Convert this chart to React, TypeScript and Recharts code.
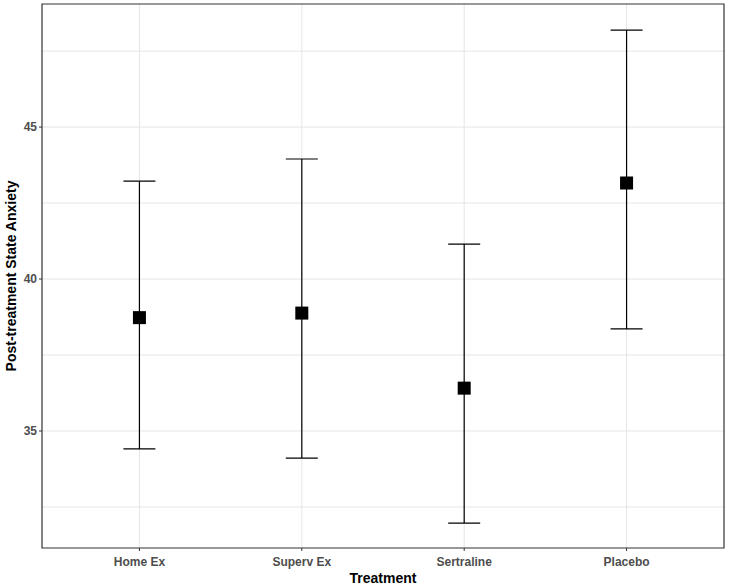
// Post-treatment state anxiety by treatment group: mean with error bars
import {
  ComposedChart,
  Scatter,
  ErrorBar,
  XAxis,
  YAxis,
  CartesianGrid,
  ReferenceArea,
} from "recharts";

const treatments = ["Home Ex", "Superv Ex", "Sertraline", "Placebo"];
const means = [38.73, 38.88, 36.41, 43.16];
const lowers = [34.41, 34.11, 31.97, 38.36];
const uppers = [43.22, 43.95, 41.15, 48.19];
const yTicks = [35, 40, 45];
const yGrid = [32.5, 35, 37.5, 40, 42.5, 45, 47.5];

const data = treatments.map((t, i) => ({
  pos: i + 1,
  name: t,
  mean: means[i],
  err: [means[i] - lowers[i], uppers[i] - means[i]],
}));

const FONT = "'Liberation Sans', Arial, sans-serif";

// filled square, like ggplot shape 15
const Square = (props: any) => {
  const { cx, cy } = props;
  return <rect x={cx - 6.5} y={cy - 6.5} width={13} height={13} fill="#000" />;
};

export default function App() {
  return (
    <div style={{ position: "absolute", left: 0, top: 0, background: "#fff" }}>
      <ComposedChart
        width={729}
        height={587}
        data={data}
        margin={{ top: 4, right: 5, bottom: 0, left: 0 }}
      >
        <CartesianGrid
          stroke="#e5e5e5"
          strokeWidth={1}
          horizontalValues={yGrid}
          verticalValues={[1, 2, 3, 4]}
        />
        <XAxis
          dataKey="pos"
          type="number"
          domain={[0.4, 4.6]}
          ticks={[1, 2, 3, 4]}
          tickFormatter={(v: number) => treatments[v - 1]}
          allowDataOverflow
          height={39}
          axisLine={false}
          tickLine={{ stroke: "#333" }}
          tickSize={3}
          tick={{ fontSize: 12, fontWeight: "bold", fill: "#4d4d4d", fontFamily: FONT, dy: 4 }}
          label={{
            value: "Treatment",
            position: "insideBottom",
            offset: 4,
            style: { fontSize: 14, fontWeight: "bold", fill: "#000", fontFamily: FONT },
          }}
        />
        <YAxis
          type="number"
          domain={[31.15, 49.05]}
          ticks={yTicks}
          allowDataOverflow
          width={42}
          axisLine={false}
          tickLine={{ stroke: "#333" }}
          tickSize={3}
          tick={{ fontSize: 12, fontWeight: "bold", fill: "#4d4d4d", fontFamily: FONT }}
          label={{
            value: "Post-treatment State Anxiety",
            angle: -90,
            position: "insideLeft",
            offset: 0,
            dx: 11,
            style: {
              fontSize: 14,
              fontWeight: "bold",
              fill: "#000",
              fontFamily: FONT,
              textAnchor: "middle",
            },
          }}
        />
        <Scatter dataKey="mean" shape={Square} isAnimationActive={false}>
          <ErrorBar
            dataKey="err"
            direction="y"
            width={16}
            stroke="#000"
            strokeWidth={1.2}
            isAnimationActive={false}
          />
        </Scatter>
        <ReferenceArea
          x1={0.4}
          x2={4.6}
          y1={31.15}
          y2={49.05}
          fill="none"
          fillOpacity={0}
          stroke="#333"
          strokeWidth={1.2}
          ifOverflow="visible"
        />
      </ComposedChart>
    </div>
  );
}
